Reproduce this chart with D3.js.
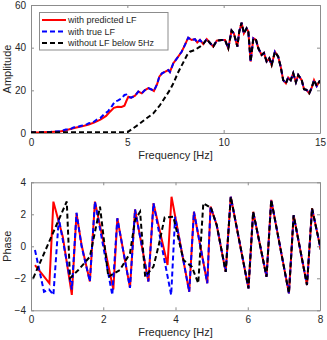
<!DOCTYPE html>
<html>
<head>
<meta charset="utf-8">
<script src="https://cdn.jsdelivr.net/npm/d3@7"></script>
<style>
  body { margin: 0; background: #fff; }
  svg { font-family: "Liberation Sans", Arial, sans-serif; }
  .tick text { fill: #262626; font-size: 10px; }
  .axisLabel { fill: #262626; font-size: 11px; }
</style>
</head>
<body>
<svg id="chart" width="327" height="340"></svg>
<script>
// ---- amplitude panel data ----
// above ~5 Hz all three curves share the same spectrum
var ampHiFreq = [5.05, 5.2, 5.4, 5.57, 5.75, 5.9, 6.09, 6.25, 6.38, 6.55, 6.66, 6.8, 6.95, 7.13, 7.21, 7.39, 7.64, 7.82, 7.99,
  8.16, 8.34, 8.51, 8.63, 8.77, 8.94, 9.12, 9.29, 9.46, 9.64, 9.9, 10.07, 10.24, 10.41, 10.53, 10.71, 10.81, 10.93, 11.05,
  11.19, 11.28, 11.4, 11.54, 11.68, 11.8, 11.97, 12.09, 12.23, 12.37, 12.49, 12.66, 12.83, 12.96, 13.09, 13.23, 13.35,
  13.48, 13.61, 13.75, 13.87, 14.05, 14.17, 14.3, 14.44, 14.57, 14.69, 14.83, 15];
var ampHi = [17, 16.6, 17.5, 19.4, 18.6, 20, 21, 20.4, 19.7, 23, 26.4, 28, 28.7, 29.5, 28.6, 32.7, 35.8, 38.1, 41.3,
  44.7, 43.6, 44, 42.4, 43.6, 41.7, 44, 42.2, 40.5, 43.3, 43.6, 43.6, 39.7, 48, 46.7, 40.5, 47.6, 51.7, 46.7,
  49.1, 47.6, 33.5, 44.4, 43.6, 39.7, 36.6, 37.5, 33.5, 35, 31.9, 38.1, 35.8, 31.1, 24.8, 23.3, 26,
  24.8, 28, 23.8, 27.2, 24.8, 20.5, 20.2, 18.6, 21.2, 24.8, 22, 24.6];

var predLoFreq = [0, 0.5, 1.0, 1.5, 1.8, 2.0, 2.3, 2.6, 3.0, 3.3, 3.6, 3.9, 4.1, 4.3, 4.5, 4.7, 4.85, 4.95];
var predLo = [0.2, 0.3, 0.5, 0.7, 1.2, 1.8, 2.5, 3.0, 4.0, 5.0, 6.3, 8.0, 10, 11.8, 12.3, 12.2, 12.8, 15];

var trueLoFreq = [0, 0.5, 1.0, 1.5, 1.8, 2.0, 2.2, 2.4, 2.6, 2.8, 3.0, 3.2, 3.4, 3.6, 3.8, 4.0, 4.2, 4.35, 4.5, 4.7, 4.85, 4.95];
var trueLo = [0.2, 0.3, 0.5, 0.8, 1.6, 1.6, 2.6, 2.8, 3.4, 3.6, 4.6, 4.8, 6.2, 7.0, 8.8, 10.2, 12.6, 14.7, 15.2, 16.2, 17.8, 18];

var noLFFreq = [0, 5.0, 5.3, 5.66, 6.0, 6.35, 6.69, 7.04, 7.21, 7.39, 7.64, 7.9, 8.1, 8.25, 8.5, 8.77];
var noLF = [0.3, 0.3, 2.2, 4.5, 6.9, 9.2, 13, 17.8, 20.2, 23.3, 28.5, 33, 36.5, 38.1, 38.9, 40.5];

// ---- phase panel data ----
var phTailFreq = [4.97, 5.14, 5.39, 5.53, 6.02, 6.15, 6.52, 6.65, 7.14, 7.27, 7.64, 7.78, 8.05];
var phTail = [2.48, 1.33, -1.6, 3.1, -2.63, 2.16, -1.9, 2.9, -2.94, 1.94, -2.42, 2.37, -0.5];

var phPredFreq = [0.11, 0.51, 0.62, 0.88, 1.13, 1.26, 1.4, 1.63, 1.77, 2.28, 2.39, 2.74, 2.88, 3.25, 3.39, 3.78, 3.89, 4.38, 4.51, 4.88];
var phPred = [-1.17, -2.31, 2.79, 0.6, -3.04, 2.06, 0.08, -2.2, 2.79, -2.7, 1.75, -2.6, 2.3, -2.2, 2.69, -1.17, 3.1, -2.84, 2.16, -2.31];

var phTrueFreq = [0.11, 0.36, 0.5, 0.62, 0.77, 1.13, 1.26, 1.4, 1.63, 1.77, 2.25, 2.39, 2.74, 2.88, 3.25, 3.39, 3.88, 3.99, 4.38, 4.51, 4.88];
var phTrue = [-0.23, -2.84, -2.7, -3.04, 1.75, -2.7, 2.1, 0.0, -2.2, 2.79, -3.04, 1.75, -2.6, 2.3, -2.2, 2.69, -3.04, 1.85, -2.84, 2.16, -2.31];

var phNoLFFreq = [0.06, 0.99, 1.08, 1.31, 1.63, 1.82, 1.91, 2.14, 2.46, 2.74, 2.88, 3.02, 3.16, 3.39, 3.55, 3.7, 3.94, 4.22, 4.45, 4.63, 4.77, 4.95];
var phNoLF = [-2.0, 2.8, -2.0, -1.48, -0.65, 1.44, 2.48, -1.9, -1.48, -0.44, 1.64, 2.16, -1.9, -1.27, 0.2, 1.8, 1.85, -0.86, -1.27, -2.31, 2.69, 2.44];

var legendLabels = ["with predicted LF", "with true LF", "without LF below 5Hz"];
var ampXTicks = [0, 5, 10, 15];
var ampYTicks = [0, 20, 40, 60];
var phXTicks = [0, 2, 4, 6, 8];
var phYTicks = [-4, -2, 0, 2, 4];

var seriesStyle = [
  { color: "#ff0000", dash: null },
  { color: "#0000ff", dash: "5,3" },
  { color: "#000000", dash: "5,3" }
];

function zip(fs, vs) {
  return fs.map(function (f, i) { return [f, vs[i]]; });
}

// combine low-frequency part with the shared tail (tail points after the last low freq)
function joinTail(lo, tailF, tail) {
  var last = lo[lo.length - 1][0];
  return lo.concat(zip(tailF, tail).filter(function (p) { return p[0] > last; }));
}

var svg = d3.select("#chart");
var boxColor = "#8c8c8c";

function drawPanel(opts) {
  var x = d3.scaleLinear().domain(opts.xDomain).range([31, 320]);
  var y = d3.scaleLinear().domain(opts.yDomain).range([opts.bottom, opts.top]);
  var g = svg.append("g");
  var clipId = "clip" + opts.id;

  g.append("clipPath").attr("id", clipId)
    .append("rect")
    .attr("x", 31).attr("y", opts.top)
    .attr("width", 289).attr("height", opts.bottom - opts.top);

  // axes with inward ticks, mirrored on all sides
  var tickLen = 3;
  g.append("g").attr("transform", "translate(0," + opts.bottom + ")")
    .call(d3.axisBottom(x).tickValues(opts.xTicks).tickSizeInner(-tickLen).tickSizeOuter(0).tickPadding(6));
  g.append("g").attr("transform", "translate(0," + opts.top + ")")
    .call(d3.axisTop(x).tickValues(opts.xTicks).tickSizeInner(-tickLen).tickSizeOuter(0).tickFormat(""));
  g.append("g").attr("transform", "translate(31,0)")
    .call(d3.axisLeft(y).tickValues(opts.yTicks).tickSizeInner(-tickLen).tickSizeOuter(0).tickPadding(5));
  g.append("g").attr("transform", "translate(320,0)")
    .call(d3.axisRight(y).tickValues(opts.yTicks).tickSizeInner(-tickLen).tickSizeOuter(0).tickFormat(""));
  g.selectAll(".domain").attr("stroke", boxColor);
  g.selectAll(".tick line").attr("stroke", boxColor);

  var line = d3.line()
    .x(function (d) { return x(d[0]); })
    .y(function (d) { return y(d[1]); });

  // red, then blue dashed, then black dashed on top
  var lines = g.append("g").attr("clip-path", "url(#" + clipId + ")");
  opts.series.forEach(function (s, i) {
    lines.append("path")
      .datum(s)
      .attr("fill", "none")
      .attr("stroke", seriesStyle[i].color)
      .attr("stroke-width", 2)
      .attr("stroke-dasharray", seriesStyle[i].dash)
      .attr("d", line);
  });

  g.append("text").attr("class", "axisLabel")
    .attr("x", 175.5).attr("y", opts.bottom + 26)
    .attr("text-anchor", "middle")
    .text("Frequency [Hz]");
  g.append("text").attr("class", "axisLabel")
    .attr("transform", "translate(11," + ((opts.top + opts.bottom) / 2) + ") rotate(-90)")
    .attr("text-anchor", "middle")
    .text(opts.yLabel);
  return g;
}

var ampPred = joinTail(zip(predLoFreq, predLo), ampHiFreq, ampHi);
var ampTrue = joinTail(zip(trueLoFreq, trueLo), ampHiFreq, ampHi);
var ampNoLF = joinTail(zip(noLFFreq, noLF), ampHiFreq, ampHi);

var ampPanel = drawPanel({
  id: "amp", xDomain: [0, 15], yDomain: [0, 60], top: 5, bottom: 133,
  xTicks: ampXTicks, yTicks: ampYTicks, yLabel: "Amplitude",
  series: [ampPred, ampTrue, ampNoLF]
});

var phPredAll = joinTail(zip(phPredFreq, phPred), phTailFreq, phTail);
var phTrueAll = joinTail(zip(phTrueFreq, phTrue), phTailFreq, phTail);
var phNoLFAll = joinTail(zip(phNoLFFreq, phNoLF), phTailFreq, phTail);

drawPanel({
  id: "ph", xDomain: [0, 8], yDomain: [-4, 4], top: 182.3, bottom: 310.3,
  xTicks: phXTicks, yTicks: phYTicks, yLabel: "Phase",
  series: [phPredAll, phTrueAll, phNoLFAll]
});

// legend
var legend = ampPanel.append("g");
legend.append("rect")
  .attr("x", 39.5).attr("y", 12.5).attr("width", 128.5).attr("height", 37.5)
  .attr("fill", "#fff").attr("stroke", boxColor);
legendLabels.forEach(function (label, i) {
  var ly = 20 + i * 11.5;
  legend.append("line")
    .attr("x1", 42).attr("x2", 66).attr("y1", ly).attr("y2", ly)
    .attr("stroke", seriesStyle[i].color)
    .attr("stroke-width", 2)
    .attr("stroke-dasharray", seriesStyle[i].dash);
  legend.append("text")
    .attr("x", 68).attr("y", ly + 3.3)
    .attr("font-size", "9px").attr("fill", "#262626")
    .text(label);
});
</script>
</body>
</html>
